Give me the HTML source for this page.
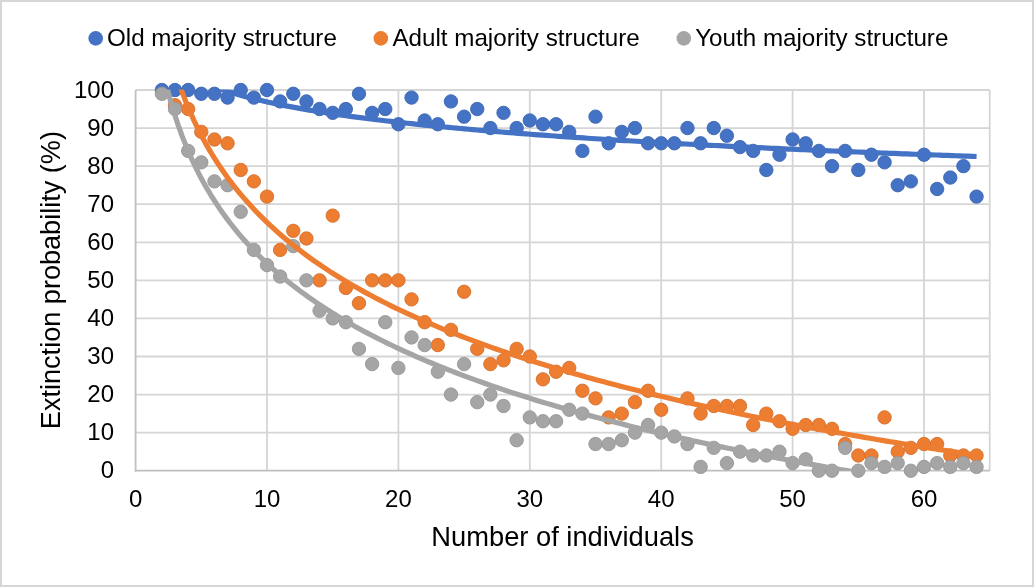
<!DOCTYPE html>
<html><head><meta charset="utf-8"><style>
html,body{margin:0;padding:0;background:#fff;}
body{width:1034px;height:587px;overflow:hidden;position:relative;}
svg{position:absolute;left:0;top:0;will-change:transform;}
text{font-family:"Liberation Sans", sans-serif;fill:#000;}
</style></head><body>
<svg width="1034" height="587" viewBox="0 0 1034 587">
<rect x="1" y="1" width="1032" height="585" fill="#fff" stroke="#D6D6D6" stroke-width="2"/>

<g stroke="#D5D5D5" stroke-width="1.8"><line x1="135.6" y1="432.63" x2="989.7" y2="432.63"/><line x1="135.6" y1="394.56" x2="989.7" y2="394.56"/><line x1="135.6" y1="356.49" x2="989.7" y2="356.49"/><line x1="135.6" y1="318.42" x2="989.7" y2="318.42"/><line x1="135.6" y1="280.35" x2="989.7" y2="280.35"/><line x1="135.6" y1="242.28" x2="989.7" y2="242.28"/><line x1="135.6" y1="204.21" x2="989.7" y2="204.21"/><line x1="135.6" y1="166.14" x2="989.7" y2="166.14"/><line x1="135.6" y1="128.07" x2="989.7" y2="128.07"/><line x1="135.6" y1="90.00" x2="989.7" y2="90.00"/><line x1="267.00" y1="90.0" x2="267.00" y2="470.7"/><line x1="398.40" y1="90.0" x2="398.40" y2="470.7"/><line x1="529.80" y1="90.0" x2="529.80" y2="470.7"/><line x1="661.20" y1="90.0" x2="661.20" y2="470.7"/><line x1="792.60" y1="90.0" x2="792.60" y2="470.7"/><line x1="924.00" y1="90.0" x2="924.00" y2="470.7"/><line x1="989.70" y1="90.0" x2="989.70" y2="470.7"/></g>
<g stroke="#BFBFBF" stroke-width="1.8"><line x1="135.6" y1="90.0" x2="135.6" y2="471.6"/><line x1="134.7" y1="470.7" x2="989.7" y2="470.7"/></g>
<g fill="#4472C4" stroke="#3D66B0" stroke-width="0.9"><circle cx="161.88" cy="90.00" r="6.7"/><circle cx="175.02" cy="90.00" r="6.7"/><circle cx="188.16" cy="90.00" r="6.7"/><circle cx="201.30" cy="93.81" r="6.7"/><circle cx="214.44" cy="93.81" r="6.7"/><circle cx="227.58" cy="97.61" r="6.7"/><circle cx="240.72" cy="90.00" r="6.7"/><circle cx="253.86" cy="97.61" r="6.7"/><circle cx="267.00" cy="90.00" r="6.7"/><circle cx="280.14" cy="101.42" r="6.7"/><circle cx="293.28" cy="93.81" r="6.7"/><circle cx="306.42" cy="101.42" r="6.7"/><circle cx="319.56" cy="109.03" r="6.7"/><circle cx="332.70" cy="112.84" r="6.7"/><circle cx="345.84" cy="109.03" r="6.7"/><circle cx="358.98" cy="93.81" r="6.7"/><circle cx="372.12" cy="112.84" r="6.7"/><circle cx="385.26" cy="109.03" r="6.7"/><circle cx="398.40" cy="124.26" r="6.7"/><circle cx="411.54" cy="97.61" r="6.7"/><circle cx="424.68" cy="120.46" r="6.7"/><circle cx="437.82" cy="124.26" r="6.7"/><circle cx="450.96" cy="101.42" r="6.7"/><circle cx="464.10" cy="116.65" r="6.7"/><circle cx="477.24" cy="109.03" r="6.7"/><circle cx="490.38" cy="128.07" r="6.7"/><circle cx="503.52" cy="112.84" r="6.7"/><circle cx="516.66" cy="128.07" r="6.7"/><circle cx="529.80" cy="120.46" r="6.7"/><circle cx="542.94" cy="124.26" r="6.7"/><circle cx="556.08" cy="124.26" r="6.7"/><circle cx="569.22" cy="131.88" r="6.7"/><circle cx="582.36" cy="150.91" r="6.7"/><circle cx="595.50" cy="116.65" r="6.7"/><circle cx="608.64" cy="143.30" r="6.7"/><circle cx="621.78" cy="131.88" r="6.7"/><circle cx="634.92" cy="128.07" r="6.7"/><circle cx="648.06" cy="143.30" r="6.7"/><circle cx="661.20" cy="143.30" r="6.7"/><circle cx="674.34" cy="143.30" r="6.7"/><circle cx="687.48" cy="128.07" r="6.7"/><circle cx="700.62" cy="143.30" r="6.7"/><circle cx="713.76" cy="128.07" r="6.7"/><circle cx="726.90" cy="135.68" r="6.7"/><circle cx="740.04" cy="147.11" r="6.7"/><circle cx="753.18" cy="150.91" r="6.7"/><circle cx="766.32" cy="169.95" r="6.7"/><circle cx="779.46" cy="154.72" r="6.7"/><circle cx="792.60" cy="139.49" r="6.7"/><circle cx="805.74" cy="143.30" r="6.7"/><circle cx="818.88" cy="150.91" r="6.7"/><circle cx="832.02" cy="166.14" r="6.7"/><circle cx="845.16" cy="150.91" r="6.7"/><circle cx="858.30" cy="169.95" r="6.7"/><circle cx="871.44" cy="154.72" r="6.7"/><circle cx="884.58" cy="162.33" r="6.7"/><circle cx="897.72" cy="185.18" r="6.7"/><circle cx="910.86" cy="181.37" r="6.7"/><circle cx="924.00" cy="154.72" r="6.7"/><circle cx="937.14" cy="188.98" r="6.7"/><circle cx="950.28" cy="177.56" r="6.7"/><circle cx="963.42" cy="166.14" r="6.7"/><circle cx="976.56" cy="196.60" r="6.7"/></g>
<g fill="#ED7D31" stroke="#D56F2B" stroke-width="0.9"><circle cx="175.02" cy="105.23" r="6.7"/><circle cx="188.16" cy="109.03" r="6.7"/><circle cx="201.30" cy="131.88" r="6.7"/><circle cx="214.44" cy="139.49" r="6.7"/><circle cx="227.58" cy="143.30" r="6.7"/><circle cx="240.72" cy="169.95" r="6.7"/><circle cx="253.86" cy="181.37" r="6.7"/><circle cx="267.00" cy="196.60" r="6.7"/><circle cx="280.14" cy="249.89" r="6.7"/><circle cx="293.28" cy="230.86" r="6.7"/><circle cx="306.42" cy="238.47" r="6.7"/><circle cx="319.56" cy="280.35" r="6.7"/><circle cx="332.70" cy="215.63" r="6.7"/><circle cx="345.84" cy="287.96" r="6.7"/><circle cx="358.98" cy="303.19" r="6.7"/><circle cx="372.12" cy="280.35" r="6.7"/><circle cx="385.26" cy="280.35" r="6.7"/><circle cx="398.40" cy="280.35" r="6.7"/><circle cx="411.54" cy="299.38" r="6.7"/><circle cx="424.68" cy="322.23" r="6.7"/><circle cx="437.82" cy="345.07" r="6.7"/><circle cx="450.96" cy="329.84" r="6.7"/><circle cx="464.10" cy="291.77" r="6.7"/><circle cx="477.24" cy="348.88" r="6.7"/><circle cx="490.38" cy="364.10" r="6.7"/><circle cx="503.52" cy="360.30" r="6.7"/><circle cx="516.66" cy="348.88" r="6.7"/><circle cx="529.80" cy="356.49" r="6.7"/><circle cx="542.94" cy="379.33" r="6.7"/><circle cx="556.08" cy="371.72" r="6.7"/><circle cx="569.22" cy="367.91" r="6.7"/><circle cx="582.36" cy="390.75" r="6.7"/><circle cx="595.50" cy="398.37" r="6.7"/><circle cx="608.64" cy="417.40" r="6.7"/><circle cx="621.78" cy="413.59" r="6.7"/><circle cx="634.92" cy="402.17" r="6.7"/><circle cx="648.06" cy="390.75" r="6.7"/><circle cx="661.20" cy="409.79" r="6.7"/><circle cx="687.48" cy="398.37" r="6.7"/><circle cx="700.62" cy="413.59" r="6.7"/><circle cx="713.76" cy="405.98" r="6.7"/><circle cx="726.90" cy="405.98" r="6.7"/><circle cx="740.04" cy="405.98" r="6.7"/><circle cx="753.18" cy="425.02" r="6.7"/><circle cx="766.32" cy="413.59" r="6.7"/><circle cx="779.46" cy="421.21" r="6.7"/><circle cx="792.60" cy="428.82" r="6.7"/><circle cx="805.74" cy="425.02" r="6.7"/><circle cx="818.88" cy="425.02" r="6.7"/><circle cx="832.02" cy="428.82" r="6.7"/><circle cx="845.16" cy="444.05" r="6.7"/><circle cx="858.30" cy="455.47" r="6.7"/><circle cx="871.44" cy="455.47" r="6.7"/><circle cx="884.58" cy="417.40" r="6.7"/><circle cx="897.72" cy="451.66" r="6.7"/><circle cx="910.86" cy="447.86" r="6.7"/><circle cx="924.00" cy="444.05" r="6.7"/><circle cx="937.14" cy="444.05" r="6.7"/><circle cx="950.28" cy="455.47" r="6.7"/><circle cx="963.42" cy="455.47" r="6.7"/><circle cx="976.56" cy="455.47" r="6.7"/></g>
<g fill="#A5A5A5" stroke="#969696" stroke-width="0.9"><circle cx="161.88" cy="93.81" r="6.7"/><circle cx="175.02" cy="109.03" r="6.7"/><circle cx="188.16" cy="150.91" r="6.7"/><circle cx="201.30" cy="162.33" r="6.7"/><circle cx="214.44" cy="181.37" r="6.7"/><circle cx="227.58" cy="185.18" r="6.7"/><circle cx="240.72" cy="211.82" r="6.7"/><circle cx="253.86" cy="249.89" r="6.7"/><circle cx="267.00" cy="265.12" r="6.7"/><circle cx="280.14" cy="276.54" r="6.7"/><circle cx="293.28" cy="246.09" r="6.7"/><circle cx="306.42" cy="280.35" r="6.7"/><circle cx="319.56" cy="310.81" r="6.7"/><circle cx="332.70" cy="318.42" r="6.7"/><circle cx="345.84" cy="322.23" r="6.7"/><circle cx="358.98" cy="348.88" r="6.7"/><circle cx="372.12" cy="364.10" r="6.7"/><circle cx="385.26" cy="322.23" r="6.7"/><circle cx="398.40" cy="367.91" r="6.7"/><circle cx="411.54" cy="337.45" r="6.7"/><circle cx="424.68" cy="345.07" r="6.7"/><circle cx="437.82" cy="371.72" r="6.7"/><circle cx="450.96" cy="394.56" r="6.7"/><circle cx="464.10" cy="364.10" r="6.7"/><circle cx="477.24" cy="402.17" r="6.7"/><circle cx="490.38" cy="394.56" r="6.7"/><circle cx="503.52" cy="405.98" r="6.7"/><circle cx="516.66" cy="440.24" r="6.7"/><circle cx="529.80" cy="417.40" r="6.7"/><circle cx="542.94" cy="421.21" r="6.7"/><circle cx="556.08" cy="421.21" r="6.7"/><circle cx="569.22" cy="409.79" r="6.7"/><circle cx="582.36" cy="413.59" r="6.7"/><circle cx="595.50" cy="444.05" r="6.7"/><circle cx="608.64" cy="444.05" r="6.7"/><circle cx="621.78" cy="440.24" r="6.7"/><circle cx="634.92" cy="432.63" r="6.7"/><circle cx="648.06" cy="425.02" r="6.7"/><circle cx="661.20" cy="432.63" r="6.7"/><circle cx="674.34" cy="436.44" r="6.7"/><circle cx="687.48" cy="444.05" r="6.7"/><circle cx="700.62" cy="466.89" r="6.7"/><circle cx="713.76" cy="447.86" r="6.7"/><circle cx="726.90" cy="463.09" r="6.7"/><circle cx="740.04" cy="451.66" r="6.7"/><circle cx="753.18" cy="455.47" r="6.7"/><circle cx="766.32" cy="455.47" r="6.7"/><circle cx="779.46" cy="451.66" r="6.7"/><circle cx="792.60" cy="463.09" r="6.7"/><circle cx="805.74" cy="459.28" r="6.7"/><circle cx="818.88" cy="470.70" r="6.7"/><circle cx="832.02" cy="470.70" r="6.7"/><circle cx="845.16" cy="447.86" r="6.7"/><circle cx="858.30" cy="470.70" r="6.7"/><circle cx="871.44" cy="463.09" r="6.7"/><circle cx="884.58" cy="466.89" r="6.7"/><circle cx="897.72" cy="463.09" r="6.7"/><circle cx="910.86" cy="470.70" r="6.7"/><circle cx="924.00" cy="466.89" r="6.7"/><circle cx="937.14" cy="463.09" r="6.7"/><circle cx="950.28" cy="466.89" r="6.7"/><circle cx="963.42" cy="463.09" r="6.7"/><circle cx="976.56" cy="466.89" r="6.7"/></g>
<clipPath id="pc"><rect x="135.6" y="89.5" width="854.1" height="381.2"/></clipPath>
<polyline clip-path="url(#pc)" points="161.88,54.53 165.97,58.79 170.07,62.51 174.16,65.81 178.26,68.78 182.35,71.47 186.44,73.94 190.54,76.22 194.63,78.34 198.72,80.31 202.82,82.16 206.91,83.90 211.01,85.54 215.10,87.09 219.19,88.57 223.29,89.98 227.38,91.32 231.48,92.60 235.57,93.83 239.66,95.01 243.76,96.15 247.85,97.24 251.95,98.30 256.04,99.31 260.13,100.30 264.23,101.25 268.32,102.17 272.41,103.06 276.51,103.93 280.60,104.77 284.70,105.59 288.79,106.39 292.88,107.17 296.98,107.92 301.07,108.66 305.17,109.38 309.26,110.08 313.35,110.76 317.45,111.43 321.54,112.09 325.63,112.73 329.73,113.36 333.82,113.97 337.92,114.57 342.01,115.16 346.10,115.74 350.20,116.31 354.29,116.86 358.39,117.41 362.48,117.94 366.57,118.47 370.67,118.99 374.76,119.49 378.86,119.99 382.95,120.49 387.04,120.97 391.14,121.44 395.23,121.91 399.32,122.37 403.42,122.82 407.51,123.27 411.61,123.71 415.70,124.14 419.79,124.57 423.89,124.99 427.98,125.41 432.08,125.81 436.17,126.22 440.26,126.62 444.36,127.01 448.45,127.40 452.54,127.78 456.64,128.16 460.73,128.53 464.83,128.90 468.92,129.26 473.01,129.62 477.11,129.97 481.20,130.33 485.30,130.67 489.39,131.01 493.48,131.35 497.58,131.69 501.67,132.02 505.77,132.35 509.86,132.67 513.95,132.99 518.05,133.31 522.14,133.62 526.23,133.93 530.33,134.24 534.42,134.54 538.52,134.84 542.61,135.14 546.70,135.43 550.80,135.72 554.89,136.01 558.99,136.30 563.08,136.58 567.17,136.86 571.27,137.14 575.36,137.41 579.45,137.69 583.55,137.96 587.64,138.22 591.74,138.49 595.83,138.75 599.92,139.01 604.02,139.27 608.11,139.53 612.21,139.78 616.30,140.03 620.39,140.28 624.49,140.53 628.58,140.77 632.67,141.02 636.77,141.26 640.86,141.50 644.96,141.74 649.05,141.97 653.14,142.21 657.24,142.44 661.33,142.67 665.43,142.90 669.52,143.12 673.61,143.35 677.71,143.57 681.80,143.79 685.90,144.01 689.99,144.23 694.08,144.44 698.18,144.66 702.27,144.87 706.36,145.08 710.46,145.29 714.55,145.50 718.65,145.71 722.74,145.92 726.83,146.12 730.93,146.32 735.02,146.53 739.12,146.73 743.21,146.92 747.30,147.12 751.40,147.32 755.49,147.51 759.58,147.71 763.68,147.90 767.77,148.09 771.87,148.28 775.96,148.47 780.05,148.66 784.15,148.84 788.24,149.03 792.34,149.21 796.43,149.40 800.52,149.58 804.62,149.76 808.71,149.94 812.81,150.12 816.90,150.29 820.99,150.47 825.09,150.64 829.18,150.82 833.27,150.99 837.37,151.16 841.46,151.33 845.56,151.50 849.65,151.67 853.74,151.84 857.84,152.01 861.93,152.18 866.03,152.34 870.12,152.51 874.21,152.67 878.31,152.83 882.40,152.99 886.49,153.15 890.59,153.31 894.68,153.47 898.78,153.63 902.87,153.79 906.96,153.95 911.06,154.10 915.15,154.26 919.25,154.41 923.34,154.56 927.43,154.72 931.53,154.87 935.62,155.02 939.72,155.17 943.81,155.32 947.90,155.47 952.00,155.61 956.09,155.76 960.18,155.91 964.28,156.05 968.37,156.20 972.47,156.34 976.56,156.49" fill="none" stroke="#4472C4" stroke-width="5.2" stroke-linejoin="round"/>
<polyline clip-path="url(#pc)" points="161.88,20.38 165.97,38.55 170.07,54.42 174.16,68.50 178.26,81.16 182.35,92.66 186.44,103.20 190.54,112.91 194.63,121.93 198.72,130.35 202.82,138.23 206.91,145.65 211.01,152.66 215.10,159.29 219.19,165.59 223.29,171.59 227.38,177.32 231.48,182.79 235.57,188.04 239.66,193.08 243.76,197.92 247.85,202.58 251.95,207.07 256.04,211.41 260.13,215.61 264.23,219.67 268.32,223.60 272.41,227.41 276.51,231.11 280.60,234.71 284.70,238.20 288.79,241.60 292.88,244.91 296.98,248.13 301.07,251.28 305.17,254.34 309.26,257.34 313.35,260.26 317.45,263.12 321.54,265.91 325.63,268.64 329.73,271.32 333.82,273.94 337.92,276.50 342.01,279.02 346.10,281.48 350.20,283.90 354.29,286.27 358.39,288.60 362.48,290.88 366.57,293.13 370.67,295.33 374.76,297.50 378.86,299.63 382.95,301.72 387.04,303.78 391.14,305.81 395.23,307.80 399.32,309.76 403.42,311.70 407.51,313.60 411.61,315.48 415.70,317.32 419.79,319.15 423.89,320.94 427.98,322.71 432.08,324.45 436.17,326.17 440.26,327.87 444.36,329.55 448.45,331.20 452.54,332.83 456.64,334.44 460.73,336.03 464.83,337.60 468.92,339.15 473.01,340.69 477.11,342.20 481.20,343.69 485.30,345.17 489.39,346.63 493.48,348.08 497.58,349.50 501.67,350.91 505.77,352.31 509.86,353.69 513.95,355.06 518.05,356.41 522.14,357.74 526.23,359.06 530.33,360.37 534.42,361.67 538.52,362.95 542.61,364.22 546.70,365.47 550.80,366.72 554.89,367.95 558.99,369.17 563.08,370.37 567.17,371.57 571.27,372.76 575.36,373.93 579.45,375.09 583.55,376.24 587.64,377.39 591.74,378.52 595.83,379.64 599.92,380.75 604.02,381.85 608.11,382.94 612.21,384.03 616.30,385.10 620.39,386.16 624.49,387.22 628.58,388.26 632.67,389.30 636.77,390.33 640.86,391.35 644.96,392.36 649.05,393.37 653.14,394.37 657.24,395.35 661.33,396.34 665.43,397.31 669.52,398.27 673.61,399.23 677.71,400.18 681.80,401.13 685.90,402.07 689.99,403.00 694.08,403.92 698.18,404.84 702.27,405.75 706.36,406.65 710.46,407.55 714.55,408.44 718.65,409.32 722.74,410.20 726.83,411.07 730.93,411.94 735.02,412.80 739.12,413.65 743.21,414.50 747.30,415.34 751.40,416.18 755.49,417.01 759.58,417.84 763.68,418.66 767.77,419.47 771.87,420.28 775.96,421.09 780.05,421.89 784.15,422.68 788.24,423.47 792.34,424.25 796.43,425.03 800.52,425.81 804.62,426.58 808.71,427.35 812.81,428.11 816.90,428.86 820.99,429.61 825.09,430.36 829.18,431.10 833.27,431.84 837.37,432.58 841.46,433.31 845.56,434.03 849.65,434.75 853.74,435.47 857.84,436.18 861.93,436.89 866.03,437.60 870.12,438.30 874.21,439.00 878.31,439.69 882.40,440.38 886.49,441.07 890.59,441.75 894.68,442.43 898.78,443.10 902.87,443.77 906.96,444.44 911.06,445.11 915.15,445.77 919.25,446.42 923.34,447.08 927.43,447.73 931.53,448.38 935.62,449.02 939.72,449.66 943.81,450.30 947.90,450.93 952.00,451.56 956.09,452.19 960.18,452.81 964.28,453.44 968.37,454.05 972.47,454.67 976.56,455.28" fill="none" stroke="#ED7D31" stroke-width="5.2" stroke-linejoin="round"/>
<polyline clip-path="url(#pc)" points="161.88,65.94 165.97,83.70 170.07,99.22 174.16,112.99 178.26,125.37 182.35,136.61 186.44,146.91 190.54,156.42 194.63,165.23 198.72,173.46 202.82,181.17 206.91,188.43 211.01,195.27 215.10,201.76 219.19,207.92 223.29,213.79 227.38,219.39 231.48,224.74 235.57,229.87 239.66,234.80 243.76,239.53 247.85,244.09 251.95,248.49 256.04,252.73 260.13,256.83 264.23,260.80 268.32,264.64 272.41,268.37 276.51,271.99 280.60,275.50 284.70,278.92 288.79,282.24 292.88,285.48 296.98,288.63 301.07,291.71 305.17,294.71 309.26,297.63 313.35,300.49 317.45,303.29 321.54,306.02 325.63,308.69 329.73,311.30 333.82,313.86 337.92,316.37 342.01,318.83 346.10,321.24 350.20,323.60 354.29,325.92 358.39,328.20 362.48,330.43 366.57,332.63 370.67,334.78 374.76,336.90 378.86,338.98 382.95,341.03 387.04,343.05 391.14,345.03 395.23,346.98 399.32,348.90 403.42,350.79 407.51,352.65 411.61,354.48 415.70,356.29 419.79,358.07 423.89,359.82 427.98,361.55 432.08,363.26 436.17,364.94 440.26,366.60 444.36,368.24 448.45,369.86 452.54,371.45 456.64,373.03 460.73,374.58 464.83,376.12 468.92,377.63 473.01,379.13 477.11,380.61 481.20,382.07 485.30,383.52 489.39,384.95 493.48,386.36 497.58,387.75 501.67,389.13 505.77,390.50 509.86,391.85 513.95,393.18 518.05,394.50 522.14,395.81 526.23,397.10 530.33,398.38 534.42,399.65 538.52,400.90 542.61,402.14 546.70,403.37 550.80,404.59 554.89,405.79 558.99,406.98 563.08,408.16 567.17,409.33 571.27,410.49 575.36,411.64 579.45,412.77 583.55,413.90 587.64,415.02 591.74,416.12 595.83,417.22 599.92,418.31 604.02,419.38 608.11,420.45 612.21,421.51 616.30,422.56 620.39,423.60 624.49,424.63 628.58,425.66 632.67,426.67 636.77,427.68 640.86,428.67 644.96,429.66 649.05,430.65 653.14,431.62 657.24,432.59 661.33,433.55 665.43,434.50 669.52,435.44 673.61,436.38 677.71,437.31 681.80,438.23 685.90,439.15 689.99,440.06 694.08,440.96 698.18,441.86 702.27,442.75 706.36,443.63 710.46,444.51 714.55,445.38 718.65,446.24 722.74,447.10 726.83,447.95 730.93,448.80 735.02,449.64 739.12,450.48 743.21,451.31 747.30,452.13 751.40,452.95 755.49,453.76 759.58,454.57 763.68,455.37 767.77,456.17 771.87,456.96 775.96,457.75 780.05,458.53 784.15,459.31 788.24,460.08 792.34,460.85 796.43,461.61 800.52,462.37 804.62,463.12 808.71,463.87 812.81,464.61 816.90,465.35 820.99,466.09 825.09,466.82 829.18,467.54 833.27,468.27 837.37,468.98 841.46,469.70 845.56,470.41 849.65,471.11 853.74,471.81 857.84,472.51 861.93,473.21 866.03,473.90 870.12,474.58 874.21,475.26 878.31,475.94 882.40,476.62 886.49,477.29 890.59,477.95 894.68,478.62 898.78,479.28 902.87,479.93 906.96,480.59 911.06,481.24 915.15,481.88 919.25,482.53 923.34,483.16 927.43,483.80 931.53,484.43 935.62,485.06 939.72,485.69 943.81,486.31 947.90,486.93 952.00,487.55 956.09,488.16 960.18,488.77 964.28,489.38 968.37,489.99 972.47,490.59 976.56,491.19" fill="none" stroke="#A5A5A5" stroke-width="5.2" stroke-linejoin="round"/>
<g font-size="24"><text x="114" y="478.3" text-anchor="end">0</text><text x="114" y="440.2" text-anchor="end">10</text><text x="114" y="402.2" text-anchor="end">20</text><text x="114" y="364.1" text-anchor="end">30</text><text x="114" y="326.0" text-anchor="end">40</text><text x="114" y="288.0" text-anchor="end">50</text><text x="114" y="249.9" text-anchor="end">60</text><text x="114" y="211.8" text-anchor="end">70</text><text x="114" y="173.7" text-anchor="end">80</text><text x="114" y="135.7" text-anchor="end">90</text><text x="114" y="97.6" text-anchor="end">100</text><text x="135.6" y="507.3" text-anchor="middle">0</text><text x="267.0" y="507.3" text-anchor="middle">10</text><text x="398.4" y="507.3" text-anchor="middle">20</text><text x="529.8" y="507.3" text-anchor="middle">30</text><text x="661.2" y="507.3" text-anchor="middle">40</text><text x="792.6" y="507.3" text-anchor="middle">50</text><text x="924.0" y="507.3" text-anchor="middle">60</text></g>
<text x="562.6" y="545.5" text-anchor="middle" font-size="27.3">Number of individuals</text>
<text transform="translate(59.7,280.1) rotate(-90)" x="0" y="0" text-anchor="middle" font-size="27.1">Extinction probability (%)</text>
<circle cx="95.7" cy="38.4" r="7.3" fill="#4472C4"/><text x="107.0" y="46.3" font-size="24.2">Old majority structure</text><circle cx="380.8" cy="38.4" r="7.3" fill="#ED7D31"/><text x="392.4" y="46.3" font-size="24.2">Adult majority structure</text><circle cx="683.8" cy="38.4" r="7.3" fill="#A5A5A5"/><text x="695.2" y="46.3" font-size="24.2">Youth majority structure</text>
</svg></body></html>
